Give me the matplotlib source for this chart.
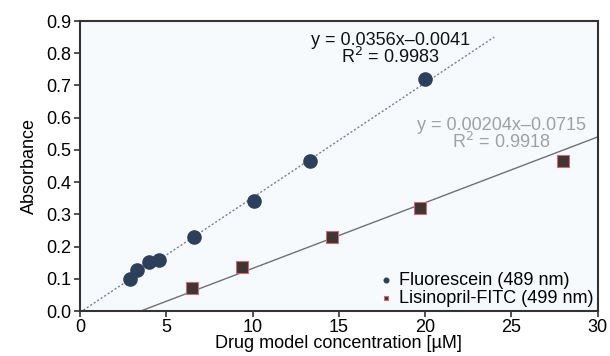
import matplotlib
matplotlib.use("Agg")
import matplotlib.pyplot as plt
import numpy as np

plt.rcParams['font.family'] = ['Liberation Sans', 'DejaVu Sans']

# Fluorescein (489 nm)
fl_conc = [2.9, 3.3, 4.0, 4.6, 6.6, 10.1, 13.3, 20.0]
fl_abs = [0.100, 0.127, 0.152, 0.158, 0.230, 0.342, 0.466, 0.720]
fl_fit = (0.0356, -0.0041)
fl_range = [0, 24.0]

# Lisinopril-FITC (499 nm)
li_conc = [6.5, 9.4, 14.6, 19.7, 28.0]
li_abs = [0.071, 0.138, 0.231, 0.319, 0.466]
li_fit = (0.0204, -0.0715)
li_range = [3.5, 30]

fig = plt.figure(figsize=(6.1, 3.56), dpi=100)
ax = fig.add_axes([0.131, 0.126, 0.849, 0.815])
ax.set_facecolor('#f7fafd')

# fitted lines
xf = np.array(fl_range)
ax.plot(xf, fl_fit[0] * xf + fl_fit[1], ls=(0, (1.5, 1.5)), color='#7a7f88', lw=1.0, zorder=2)
xl = np.array(li_range)
ax.plot(xl, li_fit[0] * xl + li_fit[1], ls='-', color='#707070', lw=1.0, zorder=2)

ax.scatter(fl_conc, fl_abs, s=90, color='#2c405b', zorder=3, label='Fluorescein (489 nm)')
ax.scatter(li_conc, li_abs, s=75, marker='s', color='#403532', edgecolors='#c87070',
           linewidths=0.8, zorder=3, label='Lisinopril-FITC (499 nm)')

ax.text(18.0, 0.812, 'y = 0.0356x\u20130.0041\nR$^2$ = 0.9983', ha='center', va='center',
        fontsize=13, linespacing=0.85, color='#111111')
ax.text(24.4, 0.549, 'y = 0.00204x\u20130.0715\nR$^2$ = 0.9918', ha='center', va='center',
        fontsize=13, linespacing=0.85, color='#a0a0a0')

ax.set_xlim(0, 30)
ax.set_ylim(0, 0.9)
ax.set_xticks(range(0, 31, 5))
ax.set_yticks(np.arange(0, 0.91, 0.1))
ax.set_yticklabels([f'{v:.1f}' for v in np.arange(0, 0.91, 0.1)])
ax.tick_params(labelsize=13, width=1.2, length=4, color='#333333', pad=2)
for s in ax.spines.values():
    s.set_linewidth(1.5)
    s.set_color('#333333')

ax.set_xlabel('Drug model concentration [\u00b5M]', fontsize=13, labelpad=-1)
ax.set_ylabel('Absorbance', fontsize=13, labelpad=6)

ax.legend(loc='lower right', frameon=False, fontsize=13, markerscale=0.35,
          handletextpad=0.2, borderaxespad=-0.15, labelspacing=0.05, handlelength=1.0)

fig.savefig('out.png', dpi=100)
